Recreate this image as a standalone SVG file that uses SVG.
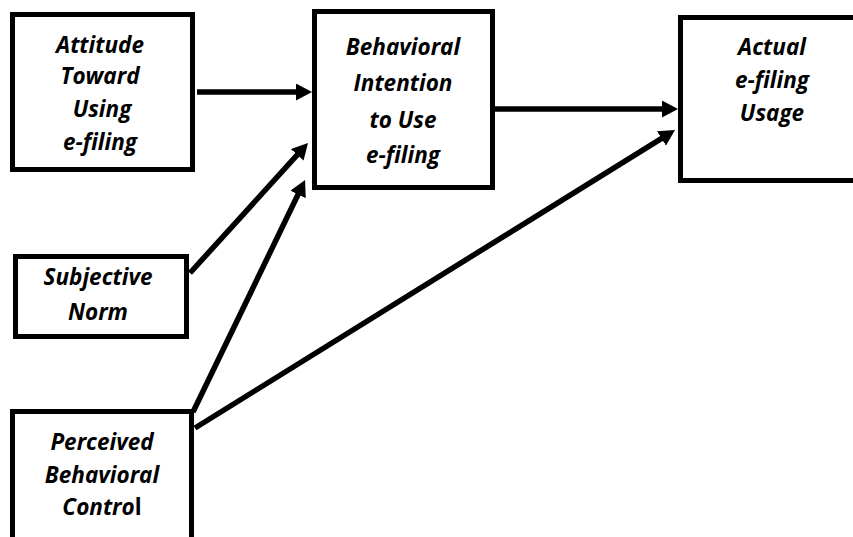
<svg xmlns="http://www.w3.org/2000/svg" width="853" height="537" viewBox="0 0 853 537">
<style>
.box{fill:#fff;stroke:#000;stroke-width:5}
.lbl{font-family:"Open Sans","Liberation Sans",sans-serif;font-weight:bold;font-style:italic;font-size:22.5px;fill:#000;text-anchor:middle}
.edge{stroke:#000;stroke-width:5.5;fill:none;marker-end:url(#ah)}
</style>
<defs>
<marker id="ah" markerUnits="userSpaceOnUse" markerWidth="18" markerHeight="18" refX="6" refY="8.5" orient="auto">
<path d="M0,0 L16,8.5 L0,17 z" fill="#000"/>
</marker>
</defs>
<rect width="853" height="537" fill="#fff"/>
<g id="attitude">
<rect class="box" x="12.5" y="14.5" width="180" height="155"/>
<text class="lbl" x="100" y="53">Attitude</text>
<text class="lbl" x="100" y="84">Toward</text>
<text class="lbl" x="102" y="117">Using</text>
<text class="lbl" x="100" y="150">e-filing</text>
</g>
<g id="intention">
<rect class="box" x="314.5" y="11.5" width="178" height="176"/>
<text class="lbl" x="403" y="55">Behavioral</text>
<text class="lbl" x="403" y="91">Intention</text>
<text class="lbl" x="403" y="128">to Use</text>
<text class="lbl" x="403" y="163">e-filing</text>
</g>
<g id="usage">
<rect class="box" x="680.5" y="17.5" width="200" height="163"/>
<text class="lbl" x="772" y="55">Actual</text>
<text class="lbl" x="772" y="88">e-filing</text>
<text class="lbl" x="772" y="121">Usage</text>
</g>
<g id="norm">
<rect class="box" x="15.5" y="256.5" width="171" height="80"/>
<text class="lbl" x="98" y="285">Subjective</text>
<text class="lbl" x="98" y="320">Norm</text>
</g>
<g id="control">
<rect class="box" x="12.5" y="411.5" width="179" height="150"/>
<text class="lbl" x="102" y="450">Perceived</text>
<text class="lbl" x="102" y="483">Behavioral</text>
<text class="lbl" x="102" y="515">Contro<tspan font-style="normal">l</tspan></text>
</g>
<g id="connectors">
<line class="edge" x1="197" y1="92" x2="302" y2="92"/>
<line class="edge" x1="495" y1="109" x2="668" y2="109"/>
<line class="edge" x1="190" y1="273" x2="301.3" y2="150.4"/>
<line class="edge" x1="193" y1="412" x2="300.7" y2="189"/>
<line class="edge" x1="195" y1="428" x2="666.5" y2="135.3"/>
</g>
</svg>
